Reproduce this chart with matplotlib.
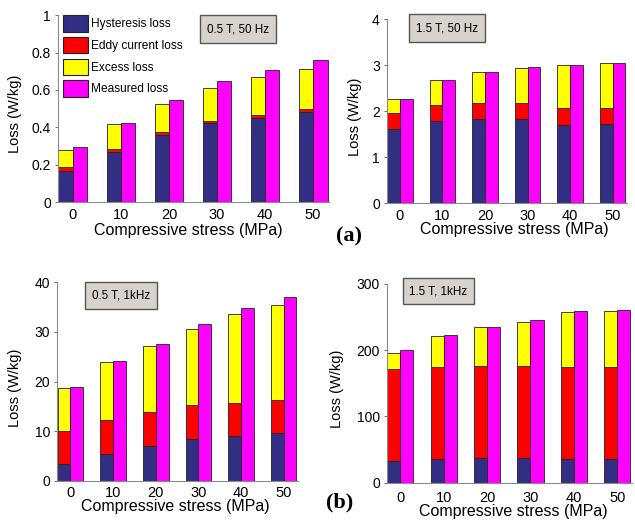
import matplotlib
matplotlib.use("Agg")
import matplotlib.pyplot as plt
import numpy as np
from matplotlib.patches import Patch, Rectangle

stress = [0, 10, 20, 30, 40, 50]

# 0.5 T, 50 Hz
hyst_a1 = [0.167, 0.270, 0.361, 0.422, 0.452, 0.482]
eddy_a1 = [0.018, 0.015, 0.014, 0.014, 0.014, 0.014]
exc_a1 = [0.091, 0.135, 0.152, 0.174, 0.201, 0.216]
meas_a1 = [0.292, 0.425, 0.545, 0.648, 0.708, 0.762]

# 1.5 T, 50 Hz
hyst_a2 = [1.62, 1.78, 1.82, 1.83, 1.71, 1.73]
eddy_a2 = [0.33, 0.35, 0.36, 0.35, 0.36, 0.35]
exc_a2 = [0.31, 0.54, 0.67, 0.76, 0.93, 0.97]
meas_a2 = [2.26, 2.67, 2.85, 2.95, 3.00, 3.05]

# 0.5 T, 1kHz
hyst_b1 = [3.3, 5.4, 7.1, 8.4, 9.0, 9.55]
eddy_b1 = [6.7, 6.85, 6.85, 6.85, 6.75, 6.8]
exc_b1 = [8.75, 11.7, 13.3, 15.35, 17.8, 19.15]
meas_b1 = [18.96, 24.13, 27.6, 31.66, 34.76, 37.1]

# 1.5 T, 1kHz
hyst_b2 = [33.2, 36.2, 37.2, 37.2, 35.2, 35.7]
eddy_b2 = [138.4, 139.0, 139.0, 139.0, 139.0, 139.0]
exc_b2 = [24.7, 46.8, 58.4, 66.9, 83.0, 84.5]
meas_b2 = [199.8, 223.0, 235.6, 245.6, 259.2, 261.2]

C_HYST = "#322e84"
C_EDDY = "#ff0000"
C_EXC = "#ffff00"
C_MEAS = "#ff00ff"

plt.rcParams["font.family"] = ["Liberation Sans", "DejaVu Sans"]


def draw_panel(ax, hyst, eddy, exc, meas, ylim, yticks, note, note_box,
               ylab_x, xlab_pos, xpad=4):
    x = np.arange(len(stress))
    w = 0.3
    kw = dict(width=w, edgecolor="#222222", linewidth=0.6)
    ax.bar(x - w / 2, hyst, color=C_HYST, **kw)
    ax.bar(x - w / 2, eddy, bottom=hyst, color=C_EDDY, **kw)
    ax.bar(x - w / 2, exc, bottom=np.add(hyst, eddy), color=C_EXC, **kw)
    ax.bar(x + w / 2, meas, color=C_MEAS, **kw)

    ax.set_xlim(-0.31, 5.33)
    ax.set_ylim(*ylim)
    ax.set_yticks(yticks)
    ax.set_xticks(x)
    ax.set_xticklabels([str(s) for s in stress])
    for s in ("top", "right"):
        ax.spines[s].set_visible(False)
    for s in ("left", "bottom"):
        ax.spines[s].set_color("#8a8a8a")
        ax.spines[s].set_linewidth(0.8)
    ax.tick_params(axis="y", direction="out", length=2, width=0.6,
                   color="#555555", labelsize=10, pad=3)
    ax.tick_params(axis="x", length=0, labelsize=10.5, pad=xpad)

    bbox = ax.get_position()
    axw = bbox.width * 635
    axh = bbox.height * 522

    ax.set_xlabel("Compressive stress (MPa)", fontsize=11.5, va="center")
    ax.set_ylabel("Loss (W/kg)", fontsize=10.5)
    ax.yaxis.set_label_coords(ylab_x, 0.47)
    ax.xaxis.set_label_coords(xlab_pos[0], -xlab_pos[1] / axh)

    # grey annotation box, size given in pixels
    cx, cy, bw, bh = note_box
    fw, fh = bw / axw, bh / axh
    ax.add_patch(Rectangle((cx - fw / 2, cy - fh / 2), fw, fh,
                           transform=ax.transAxes, facecolor="#d6d3ce",
                           edgecolor="#555555", linewidth=1.0, clip_on=False,
                           zorder=5))
    ax.text(cx, cy, note, transform=ax.transAxes, ha="center", va="center",
            fontsize=8.4, zorder=6)


fig = plt.figure(figsize=(6.35, 5.22), dpi=100)
ax1 = fig.add_axes([0.0913, 0.613, 0.4268, 0.358])
ax2 = fig.add_axes([0.609, 0.6105, 0.378, 0.353])
ax3 = fig.add_axes([0.0902, 0.0791, 0.3786, 0.380])
ax4 = fig.add_axes([0.609, 0.0753, 0.3858, 0.3807])

draw_panel(ax1, hyst_a1, eddy_a1, exc_a1, meas_a1, (0, 1),
           [0, 0.2, 0.4, 0.6, 0.8, 1], "0.5 T, 50 Hz",
           (0.664, 0.924, 76, 28), -0.133, (0.48, 28.5))
ax1.set_yticklabels(["0", "0.2", "0.4", "0.6", "0.8", "1"])
draw_panel(ax2, hyst_a2, eddy_a2, exc_a2, meas_a2, (0, 4),
           [0, 1, 2, 3, 4], "1.5 T, 50 Hz",
           (0.252, 0.950, 76, 28), -0.103, (0.53, 26.5))
draw_panel(ax3, hyst_b1, eddy_b1, exc_b1, meas_b1, (0, 40),
           [0, 10, 20, 30, 40], "0.5 T, 1kHz",
           (0.265, 0.934, 71.5, 27), -0.147, (0.493, 26))
draw_panel(ax4, hyst_b2, eddy_b2, exc_b2, meas_b2, (0, 300),
           [0, 100, 200, 300], "1.5 T, 1kHz",
           (0.211, 0.964, 71.5, 26), -0.174, (0.518, 29), xpad=6)

handles = [Patch(facecolor=c, edgecolor="#222222", linewidth=0.8)
           for c in (C_HYST, C_EDDY, C_EXC, C_MEAS)]
labels = ["Hysteresis loss", "Eddy current loss", "Excess loss", "Measured loss"]
ax1.legend(handles, labels, loc="upper left", bbox_to_anchor=(0.02, 1.0),
           frameon=False, borderpad=0, borderaxespad=0,
           handlelength=2.1, handleheight=1.77, labelspacing=0.42,
           handletextpad=0.2, prop={"size": 8.6})

fig.text(349 / 635, 1 - 236 / 522, "(a)", family=["Liberation Serif", "DejaVu Serif"],
         fontweight="bold", fontsize=16, ha="center", va="center")
fig.text(340 / 635, 1 - 502 / 522, "(b)", family=["Liberation Serif", "DejaVu Serif"],
         fontweight="bold", fontsize=16, ha="center", va="center")

fig.savefig("out.png", dpi=100)
